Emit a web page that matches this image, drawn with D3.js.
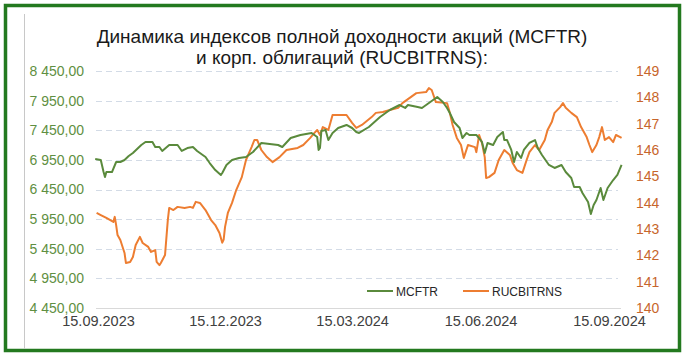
<!DOCTYPE html>
<html><head><meta charset="utf-8">
<script src="https://cdn.jsdelivr.net/npm/d3@7/dist/d3.min.js"></script>
<style>
html,body{margin:0;padding:0;background:#fff;}
svg{display:block;font-family:"Liberation Sans",Arial,sans-serif;}
</style></head>
<body><svg id="chart" width="687" height="361"></svg>
<script>
const titleLines = ["Динамика индексов полной доходности акций (MCFTR)", "и корп. облигаций (RUCBITRNS):"];
const seriesNames = ["MCFTR", "RUCBITRNS"];
const leftTicks = [4450, 4950, 5450, 5950, 6450, 6950, 7450, 7950, 8450];
const rightTicks = [140, 141, 142, 143, 144, 145, 146, 147, 148, 149];
const xTicks = ["2023-09-15", "2023-12-15", "2024-03-15", "2024-06-15", "2024-09-15"];

const mcftrDates = ["2023-09-13","2023-09-17","2023-09-19","2023-09-20","2023-09-21","2023-09-25","2023-09-28","2023-10-01","2023-10-04","2023-10-07","2023-10-10","2023-10-13","2023-10-16","2023-10-19","2023-10-24","2023-10-26","2023-10-29","2023-10-31","2023-11-05","2023-11-11","2023-11-14","2023-11-18","2023-11-22","2023-11-25","2023-12-01","2023-12-04","2023-12-08","2023-12-12","2023-12-13","2023-12-16","2023-12-20","2023-12-25","2023-12-30","2024-01-04","2024-01-10","2024-01-16","2024-01-22","2024-01-25","2024-01-31","2024-02-07","2024-02-15","2024-02-19","2024-02-20","2024-02-21","2024-02-22","2024-02-25","2024-02-27","2024-03-01","2024-03-05","2024-03-11","2024-03-15","2024-03-18","2024-03-20","2024-03-27","2024-04-04","2024-04-11","2024-04-18","2024-04-22","2024-04-24","2024-05-01","2024-05-04","2024-05-09","2024-05-15","2024-05-19","2024-05-22","2024-05-24","2024-05-27","2024-05-31","2024-06-02","2024-06-05","2024-06-07","2024-06-12","2024-06-16","2024-06-18","2024-06-20","2024-06-24","2024-06-27","2024-07-01","2024-07-02","2024-07-04","2024-07-07","2024-07-09","2024-07-11","2024-07-14","2024-07-16","2024-07-20","2024-07-24","2024-07-26","2024-07-29","2024-08-03","2024-08-07","2024-08-12","2024-08-15","2024-08-19","2024-08-21","2024-08-25","2024-08-27","2024-08-31","2024-09-02","2024-09-04","2024-09-06","2024-09-09","2024-09-11","2024-09-14","2024-09-18","2024-09-21","2024-09-24"];
const mcftrValues = [6965,6948,6745,6661,6745,6745,6914,6914,6948,7015,7066,7134,7201,7252,7252,7167,7167,7100,7201,7201,7100,7150,7167,7100,6999,6897,6779,6695,6729,6864,6948,6982,6999,7083,7235,7218,7201,7167,7319,7370,7404,7336,7117,7150,7438,7454,7285,7404,7488,7539,7488,7421,7404,7505,7674,7792,7876,7826,7876,7842,7826,7910,8011,7927,7826,7741,7589,7488,7319,7404,7370,7370,7252,7066,7235,7201,7336,7421,7285,7285,7117,6914,7083,6982,7117,7235,7285,7150,7032,6864,6813,6864,6745,6644,6492,6492,6391,6239,6037,6188,6273,6475,6273,6475,6610,6695,6864];

const rucbDates = ["2023-09-14","2023-09-17","2023-09-21","2023-09-26","2023-09-27","2023-09-28","2023-09-29","2023-10-01","2023-10-04","2023-10-05","2023-10-08","2023-10-10","2023-10-12","2023-10-15","2023-10-17","2023-10-21","2023-10-23","2023-10-26","2023-10-27","2023-10-29","2023-10-30","2023-11-02","2023-11-04","2023-11-05","2023-11-08","2023-11-11","2023-11-16","2023-11-20","2023-11-22","2023-11-24","2023-11-27","2023-12-01","2023-12-05","2023-12-08","2023-12-11","2023-12-13","2023-12-14","2023-12-15","2023-12-17","2023-12-20","2023-12-23","2023-12-27","2023-12-30","2024-01-03","2024-01-05","2024-01-07","2024-01-10","2024-01-14","2024-01-18","2024-01-23","2024-01-28","2024-02-05","2024-02-09","2024-02-14","2024-02-17","2024-02-19","2024-02-21","2024-02-23","2024-02-27","2024-03-01","2024-03-05","2024-03-11","2024-03-15","2024-03-18","2024-03-22","2024-03-29","2024-04-01","2024-04-06","2024-04-11","2024-04-17","2024-04-20","2024-04-25","2024-04-30","2024-05-07","2024-05-09","2024-05-11","2024-05-14","2024-05-22","2024-05-24","2024-05-26","2024-05-29","2024-06-01","2024-06-03","2024-06-06","2024-06-11","2024-06-12","2024-06-14","2024-06-16","2024-06-18","2024-06-19","2024-06-21","2024-06-25","2024-06-28","2024-07-02","2024-07-06","2024-07-08","2024-07-11","2024-07-15","2024-07-18","2024-07-20","2024-07-24","2024-07-27","2024-07-31","2024-08-02","2024-08-05","2024-08-07","2024-08-11","2024-08-13","2024-08-15","2024-08-19","2024-08-23","2024-08-26","2024-08-30","2024-09-01","2024-09-03","2024-09-06","2024-09-08","2024-09-10","2024-09-12","2024-09-15","2024-09-18","2024-09-20","2024-09-23","2024-09-24"];
const rucbValues = [143.61,143.53,143.42,143.27,143.46,143.15,142.77,142.58,142.09,141.71,141.75,141.94,142.39,142.70,142.47,142.32,142.13,142.20,141.75,141.63,141.71,142.01,143.34,143.80,143.72,143.84,143.80,143.84,143.80,144.03,143.99,143.72,143.34,143.15,142.85,142.48,142.60,143.08,143.61,143.99,144.48,144.97,145.62,146.11,146.38,146.38,146.00,145.73,145.54,145.73,146.00,146.08,146.19,146.46,146.65,146.76,146.57,146.87,146.76,147.33,147.33,147.33,147.03,146.84,146.95,147.25,147.41,147.44,147.52,147.60,147.78,147.97,148.16,148.20,148.35,148.28,147.82,147.78,147.41,146.95,146.46,146.19,145.70,146.19,146.11,145.92,146.57,146.27,145.73,144.94,144.97,145.13,145.62,146.00,145.81,145.51,145.24,145.13,145.62,145.92,146.19,146.00,146.38,146.76,147.06,147.41,147.63,147.78,147.60,147.41,147.25,146.87,146.49,146.19,145.92,146.19,146.49,146.87,146.38,146.49,146.30,146.57,146.49,146.46];

const colors = {green: "#5a8a3c", orange: "#ed7d31", leftText: "#5f8f42", rightText: "#c7652b", frame: "#23791f"};

const parse = d3.timeParse("%Y-%m-%d");
const svg = d3.select("#chart");

// frame
svg.append("rect").attr("x", 5.5).attr("y", 5.5).attr("width", 674).attr("height", 345)
  .attr("fill", "#fff").attr("stroke", colors.frame).attr("stroke-width", 3.5);
svg.append("line").attr("x1", 24.5).attr("x2", 24.5).attr("y1", 14).attr("y2", 349)
  .attr("stroke", "#c8c8c8").attr("stroke-width", 1);

const x = d3.scaleTime().domain([parse("2023-09-15"), parse("2024-09-15")]).range([98, 609]);
const yL = d3.scaleLinear().domain([4450, 8450]).range([308, 71]);
const yR = d3.scaleLinear().domain([140, 149]).range([308, 71]);
const plotX0 = 96, plotX1 = 620;

const ruFmt = d3.formatLocale({decimal: ",", thousands: " ", grouping: [3], currency: ["", ""]}).format(",.2f");

// gridlines
svg.append("g").selectAll("line").data(leftTicks.slice(1)).join("line")
  .attr("x1", plotX0).attr("x2", plotX1 - 2)
  .attr("y1", d => Math.round(yL(d)) + 0.5).attr("y2", d => Math.round(yL(d)) + 0.5)
  .attr("stroke", "#d3dbe6").attr("stroke-width", 1).attr("stroke-dasharray", "6,4");
svg.append("line").attr("x1", plotX0).attr("x2", plotX1 + 1)
  .attr("y1", Math.round(yL(4450)) + 0.5).attr("y2", Math.round(yL(4450)) + 0.5)
  .attr("stroke", "#d9d9d9").attr("stroke-width", 1.2);

// left axis
const gL = svg.append("g").attr("transform", "translate(84,0)")
  .call(d3.axisLeft(yL).tickValues(leftTicks).tickFormat(ruFmt).tickSize(0).tickPadding(0));
gL.select(".domain").remove();
gL.selectAll("text").attr("fill", colors.leftText).style("font-size", "14px")
  .style("font-family", "'Liberation Sans', Arial, sans-serif");

// right axis
const gR = svg.append("g").attr("transform", "translate(636,0)")
  .call(d3.axisRight(yR).tickValues(rightTicks).tickFormat(d3.format("d")).tickSize(0).tickPadding(0));
gR.select(".domain").remove();
gR.selectAll("text").attr("fill", colors.rightText).style("font-size", "14px")
  .style("font-family", "'Liberation Sans', Arial, sans-serif");

// bottom axis
const gB = svg.append("g").attr("transform", "translate(0,316)")
  .call(d3.axisBottom(x).tickValues(xTicks.map(parse)).tickFormat(d3.timeFormat("%d.%m.%Y")).tickSize(0).tickPadding(0));
gB.select(".domain").remove();
gB.selectAll("text").attr("fill", "#404040").style("font-size", "14.5px")
  .style("font-family", "'Liberation Sans', Arial, sans-serif");

// lines
const orangeData = rucbDates.map((d, i) => ({date: parse(d), v: rucbValues[i]}));
const greenData = mcftrDates.map((d, i) => ({date: parse(d), v: mcftrValues[i]}));
svg.append("path").datum(orangeData)
  .attr("d", d3.line().x(d => x(d.date)).y(d => yR(d.v)))
  .attr("fill", "none").attr("stroke", colors.orange).attr("stroke-width", 2).attr("stroke-linejoin", "round");
svg.append("path").datum(greenData)
  .attr("d", d3.line().x(d => x(d.date)).y(d => yL(d.v)))
  .attr("fill", "none").attr("stroke", colors.green).attr("stroke-width", 2).attr("stroke-linejoin", "round");

// title
svg.append("g").selectAll("text").data(titleLines).join("text")
  .attr("x", 342).attr("y", (d, i) => 43 + i * 21)
  .attr("text-anchor", "middle").attr("fill", "#1a1a1a").style("font-size", "19px")
  .text(d => d);

// legend
const legend = [{name: seriesNames[0], color: colors.green, x: 367}, {name: seriesNames[1], color: colors.orange, x: 463}];
const lg = svg.append("g").selectAll("g").data(legend).join("g").attr("transform", d => `translate(${d.x},291)`);
lg.append("line").attr("x1", 0).attr("x2", 26).attr("stroke", d => d.color).attr("stroke-width", 2);
lg.append("text").attr("x", 29).attr("y", 4.5).attr("fill", "#262626").style("font-size", "12px").text(d => d.name);
</script></body></html>
